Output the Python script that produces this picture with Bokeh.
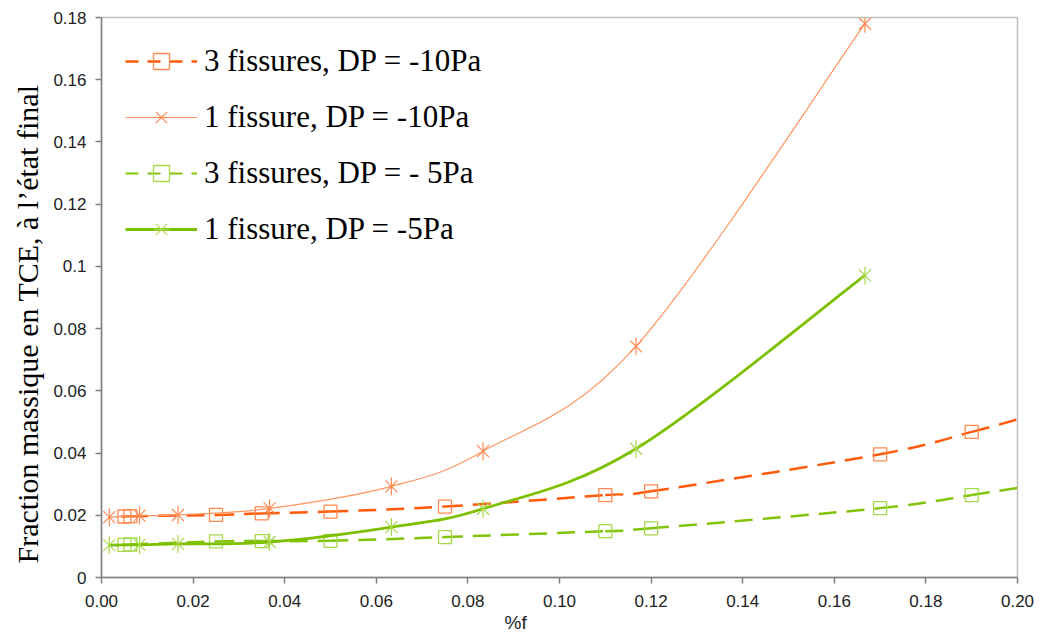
import numpy as np
from bokeh.plotting import figure
from bokeh.models import FixedTicker, Legend, LegendItem, Title
from bokeh.embed import file_html
from bokeh.resources import INLINE

# ---- data ----
x_1f = [0.0017, 0.0083, 0.0167, 0.0367, 0.0633, 0.0833, 0.1167, 0.1667]
y_1f_10 = [0.0194, 0.0199, 0.0201, 0.0222, 0.0293, 0.0406, 0.0743, 0.1780]
y_1f_5 = [0.0104, 0.0105, 0.0108, 0.0114, 0.0162, 0.0221, 0.0414, 0.0971]

x_3f = [0.005, 0.0063, 0.025, 0.035, 0.05, 0.075, 0.11, 0.12, 0.17, 0.19, 0.20]
y_3f_10 = [0.0196, 0.0197, 0.0201, 0.0206, 0.0212, 0.0228, 0.0265, 0.0277, 0.0396, 0.0468, 0.0508]
y_3f_5 = [0.0105, 0.0106, 0.0116, 0.0117, 0.0118, 0.0130, 0.0149, 0.0158, 0.0223, 0.0265, 0.0288]

labels = ["3 fissures, DP = -10Pa", "1 fissure, DP = -10Pa",
          "3 fissures, DP = - 5Pa", "1 fissure, DP = -5Pa"]

x_ticks = [0.00, 0.02, 0.04, 0.06, 0.08, 0.10, 0.12, 0.14, 0.16, 0.18, 0.20]
x_tick_labels = ["0.00", "0.02", "0.04", "0.06", "0.08", "0.10", "0.12", "0.14", "0.16", "0.18", "0.20"]
y_ticks = [0, 0.02, 0.04, 0.06, 0.08, 0.10, 0.12, 0.14, 0.16, 0.18]
y_tick_labels = ["0", "0.02", "0.04", "0.06", "0.08", "0.1", "0.12", "0.14", "0.16", "0.18"]

x_title = "%f"
y_title = "Fraction massique  en TCE, à l’état final"


def smooth_segments(xs, ys):
    xs = np.asarray(xs, float)
    ys = np.asarray(ys, float)
    n = len(xs)
    xp = np.concatenate([[xs[0]], xs, [xs[-1]]])
    yp = np.concatenate([[ys[0]], ys, [ys[-1]]])
    return dict(
        x0=xs[:-1], y0=ys[:-1], x1=xs[1:], y1=ys[1:],
        cx0=xp[1:n] + (xp[2:n + 1] - xp[0:n - 1]) / 6.0,
        cy0=yp[1:n] + (yp[2:n + 1] - yp[0:n - 1]) / 6.0,
        cx1=xp[2:n + 1] - (xp[3:n + 2] - xp[1:n]) / 6.0,
        cy1=yp[2:n + 1] - (yp[3:n + 2] - yp[1:n]) / 6.0,
    )


p = figure(width=1040, height=632, output_backend="svg", toolbar_location=None,
           x_range=(0, 0.20), y_range=(0, 0.18),
           min_border_left=101, min_border_right=23, min_border_top=17, min_border_bottom=55)

p.xgrid.visible = False
p.ygrid.visible = False
p.outline_line_color = "#c0c0c0"
p.outline_line_width = 1.5
p.background_fill_color = "white"
p.border_fill_color = "white"

OR_DARK = "#ff5a0a"
OR_LINE = "#ff9560"
OR_MARK = "#ff8a50"
GR_LINE = "#7cc000"
GR_DASH = "#82c40a"
GR_MARK = "#a6d94a"

DASH = "18 10"
NAN = [float("nan")]

# 3 fissures -10Pa (dashed dark orange + squares)
p.bezier(**smooth_segments(x_3f, y_3f_10), line_color=OR_DARK, line_width=2.5, line_dash=DASH)
l1 = p.line(x=NAN, y=NAN, line_color=OR_DARK, line_width=2.5, line_dash="13 9")
m1 = p.scatter(x=x_3f[:-1], y=y_3f_10[:-1], marker="square", size=13,
               fill_color=None, line_color=OR_MARK, line_width=1.3)

# 1 fissure -10Pa (thin orange + stars)
p.bezier(**smooth_segments(x_1f, y_1f_10), line_color=OR_LINE, line_width=1.2)
l2 = p.line(x=NAN, y=NAN, line_color=OR_LINE, line_width=1.2)
m2a = p.scatter(x=x_1f, y=y_1f_10, marker="x", size=17, line_color=OR_MARK, line_width=1.2)
m2b = p.scatter(x=x_1f, y=y_1f_10, marker="dash", angle=np.pi / 2, size=18,
                line_color=OR_MARK, line_width=1.2)

# 3 fissures -5Pa (dashed green + squares)
p.bezier(**smooth_segments(x_3f, y_3f_5), line_color=GR_DASH, line_width=2.5, line_dash=DASH)
l3 = p.line(x=NAN, y=NAN, line_color=GR_DASH, line_width=2.0, line_dash="13 9")
m3 = p.scatter(x=x_3f[:-1], y=y_3f_5[:-1], marker="square", size=13,
               fill_color=None, line_color=GR_MARK, line_width=1.3)

# 1 fissure -5Pa (thick green + stars)
p.bezier(**smooth_segments(x_1f, y_1f_5), line_color=GR_LINE, line_width=2.8)
l4 = p.line(x=NAN, y=NAN, line_color=GR_LINE, line_width=2.8)
m4a = p.scatter(x=x_1f, y=y_1f_5, marker="x", size=17, line_color=GR_MARK, line_width=1.2)
m4b = p.scatter(x=x_1f, y=y_1f_5, marker="dash", angle=np.pi / 2, size=18,
                line_color=GR_MARK, line_width=1.2)

legend = Legend(items=[
    LegendItem(label=labels[0], renderers=[l1, m1]),
    LegendItem(label=labels[1], renderers=[l2, m2a, m2b]),
    LegendItem(label=labels[2], renderers=[l3, m3]),
    LegendItem(label=labels[3], renderers=[l4, m4a, m4b]),
], location="top_left")
legend.border_line_color = None
legend.background_fill_alpha = 0
legend.margin = 24
legend.padding = 10
legend.glyph_width = 72
legend.glyph_height = 40
legend.spacing = 16
legend.label_standoff = 7
legend.label_text_font = "Liberation Serif"
legend.label_text_font_size = "31px"
legend.label_text_color = "black"
legend.label_text_baseline = "middle"
p.add_layout(legend)

# axes
for ax in (p.xaxis[0], p.yaxis[0]):
    ax.axis_line_color = "#7f7f7f"
    ax.axis_line_width = 1.5
    ax.major_tick_line_color = "#7f7f7f"
    ax.major_tick_line_width = 1.5
    ax.major_tick_out = 6
    ax.major_tick_in = 0
    ax.minor_tick_line_color = None
    ax.major_label_text_font = "Liberation Sans"
    ax.major_label_text_font_size = "17px"
    ax.major_label_text_color = "#222222"

p.xaxis.ticker = FixedTicker(ticks=x_ticks)
p.xaxis.major_label_overrides = {t: s for t, s in zip(x_ticks, x_tick_labels)}
p.yaxis.ticker = FixedTicker(ticks=y_ticks)
p.yaxis.major_label_overrides = {t: s for t, s in zip(y_ticks, y_tick_labels)}
p.xaxis.major_label_standoff = 11
p.yaxis.major_label_standoff = 9

ytitle = Title(text=y_title, align="left", offset=14, standoff=14,
               text_font="Liberation Serif", text_font_size="30px",
               text_font_style="normal", text_color="black")
p.add_layout(ytitle, "left")

xtitle = Title(text=x_title, align="left", offset=403, standoff=0,
               text_font="Liberation Sans", text_font_size="19px",
               text_font_style="normal", text_color="#222222")
p.add_layout(xtitle, "below")

open("out.html", "w").write(file_html(p, INLINE))
